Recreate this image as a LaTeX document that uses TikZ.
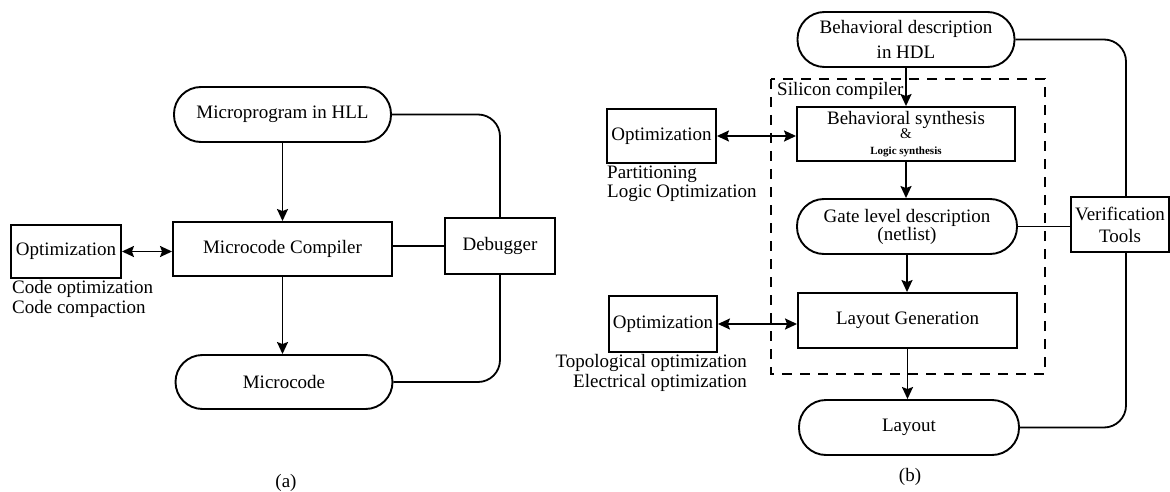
\documentclass[tikz,border=0pt]{standalone}
\usepackage{fontspec}
\setmainfont{Liberation Serif}
\usetikzlibrary{arrows.meta,calc}
\begin{document}
\begin{tikzpicture}[x=1pt,y=-1pt,
  every node/.style={font=\fontsize{19}{20}\selectfont},
  box/.style={draw,line width=1.9pt,inner sep=0pt,minimum width=#1,minimum height=54pt,align=center},
  pill/.style={draw,line width=1.9pt,rounded corners=27pt,inner sep=0pt,minimum width=#1,minimum height=55pt,align=center},
  lbl/.style={inner sep=0pt,align=left,anchor=north west},
  conn/.style={line width=1.8pt},
  arr/.style={line width=1.8pt,-{Stealth[length=12pt,width=11pt,inset=2pt]}},
  darr/.style={line width=1.8pt,{Stealth[length=12pt,width=11pt,inset=2pt]}-{Stealth[length=12pt,width=11pt,inset=2pt]}},
  loop/.style={line width=1.8pt,rounded corners=22pt},
  frame/.style={line width=1.8pt,dash pattern=on 10pt off 8pt}
]
\useasboundingbox (0,0) rectangle (1170,492);

% ---------- (a) ----------
\node[pill=217pt] (mp) at (282.5,114.5) {Microprogram in HLL};
\node[box=219pt] (mc) at (282.5,249) {Microcode Compiler};
\node[box=110pt,minimum height=53pt] (opa) at (66,251.5) {Optimization};
\node[pill=217pt,minimum height=54pt] (mcode) at (284,382) {Microcode};
\node[box=110pt,minimum height=56pt] (dbg) at (500,246) {Debugger};
\node[lbl,anchor=west] (opal1) at (12,289) {Code optimization};
\node[lbl,anchor=west] (opal2) at (12,309) {Code compaction};
\node[inner sep=0pt] (capa) at (286,483) {(a)};

\draw[arr] (mp.south) -- (mp.south |- mc.north);
\draw[arr] (mc.south) -- (mc.south |- mcode.north);
\draw[darr] (opa.east) -- (opa.east -| mc.west);
\draw[conn] (dbg.west) -- (dbg.west -| mc.east);
\draw[loop] (mp.east) -| (dbg.north);
\draw[loop] (dbg.south) |- (mcode.east);

% ---------- (b) ----------
\draw[frame] (771,79) rectangle (1045,374);
\node[lbl,anchor=west] (sc) at (777,91) {Silicon compiler};

\node[pill=217pt] (bd) at (906,39.5) {Behavioral description\\[5pt]in HDL};
\node[box=218pt] (bs) at (906,134) {Behavioral synthesis\\[-6pt]{\fontsize{15}{15}\selectfont\&}\\[-4pt]{\fontsize{11}{11}\selectfont\bfseries Logic synthesis}};
\node[box=109pt] (opb1) at (661.5,136) {Optimization};
\node[lbl,anchor=west] (pl1) at (607,174) {Partitioning};
\node[lbl,anchor=west] (pl2) at (607,193) {Logic Optimization};
\node[pill=220pt] (gl) at (907,226.5) {Gate level description\\[-2pt](netlist)};
\node[box=98pt,minimum height=55pt] (ver) at (1120,224.5) {Verification\\[2pt]Tools};
\node[box=219pt,minimum height=55pt] (lg) at (907.5,320.5) {Layout Generation};
\node[box=108pt,minimum height=56pt] (opb2) at (663,324) {Optimization};
\node[lbl,anchor=east,align=right] (tl1) at (747,363) {Topological optimization};
\node[lbl,anchor=east,align=right] (tl2) at (747,383) {Electrical optimization};
\node[pill=220pt] (lay) at (909,427.5) {Layout};
\node[inner sep=0pt] (capb) at (910,477) {(b)};

\draw[arr] (bd.south) -- (bd.south |- bs.north);
\draw[darr] (opb1.east) -- (opb1.east -| bs.west);
\draw[arr] (bs.south) -- (bs.south |- gl.north);
\draw[conn] (gl.east) -- (gl.east -| ver.west);
\draw[arr] (gl.south) -- (gl.south |- lg.north);
\draw[darr] (opb2.east) -- (opb2.east -| lg.west);
\draw[arr] (lg.south) -- (lg.south |- lay.north);
\draw[loop] (bd.east) -| ([xshift=6pt]ver.north);
\draw[loop] ([xshift=6pt]ver.south) |- (lay.east);
\end{tikzpicture}
\end{document}
